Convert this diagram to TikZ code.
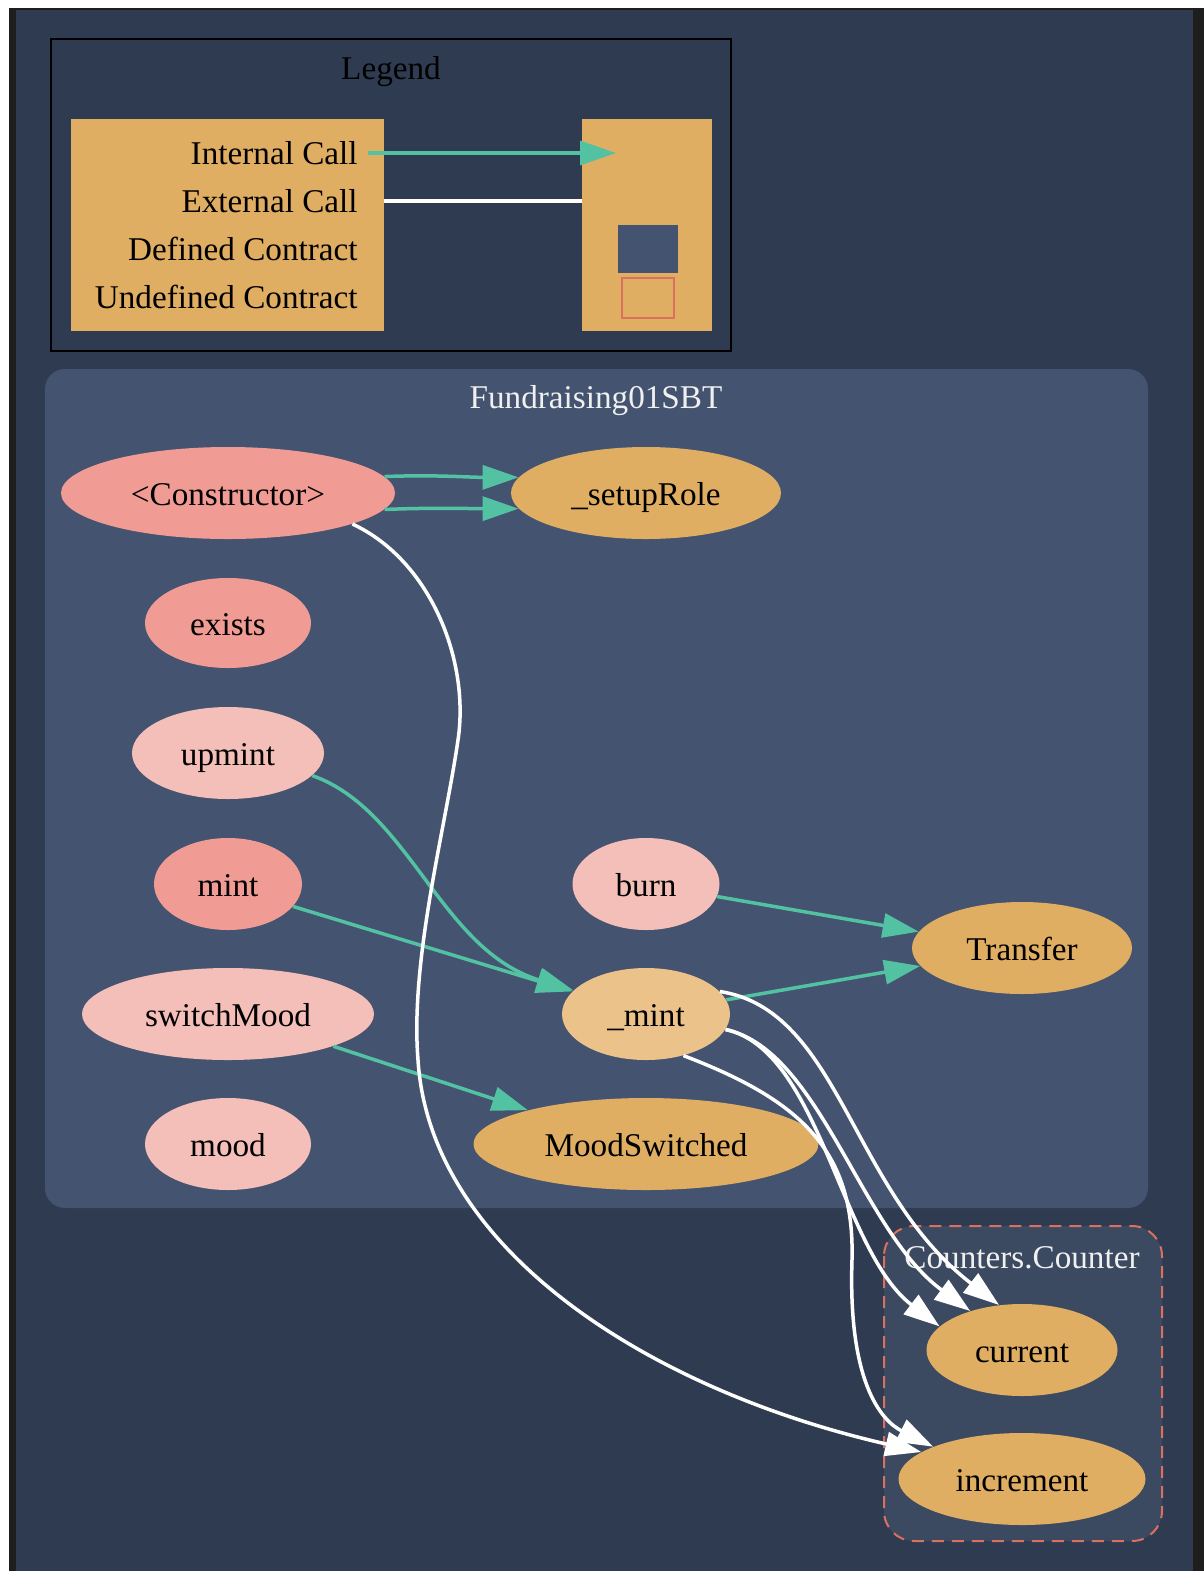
\documentclass[tikz,border=0pt]{standalone}
\usepackage{fontspec}
\setmainfont{Liberation Serif}
\usetikzlibrary{arrows.meta,shapes.geometric}

\definecolor{pagenavy}{HTML}{2E3B51}
\definecolor{framegray}{HTML}{1E1E1E}
\definecolor{clusterblue}{HTML}{445470}
\definecolor{counterblue}{HTML}{3C4A61}
\definecolor{gold}{HTML}{E0AE62}
\definecolor{sand}{HTML}{EBC28A}
\definecolor{salmon}{HTML}{F09C95}
\definecolor{blush}{HTML}{F4BFB8}
\definecolor{callteal}{HTML}{52C2A3}
\definecolor{undefred}{HTML}{D9715F}
\definecolor{titlewhite}{HTML}{F0F0F0}

\tikzset{
    fn/.style={ellipse, inner sep=0pt, minimum height=46pt, text=black,
        text height=14pt, text depth=1.5pt,
        font=\fontsize{16.6}{20}\selectfont},
    pubfn/.style={fn, fill=salmon},
    privfn/.style={fn, fill=blush},
    evfn/.style={fn, fill=gold},
    mintfn/.style={fn, fill=sand},
    lbl/.style={inner sep=0pt, text height=14pt, text depth=1.5pt,
        font=\fontsize{16.6}{20}\selectfont},
    intcall/.style={draw=callteal, line width=1.75pt,
        -{Triangle[length=18pt,width=12pt]}},
    extcall/.style={draw=white, line width=1.75pt,
        -{Triangle[length=18pt,width=12pt]}},
}

\begin{document}
\begin{tikzpicture}[x=0.5pt, y=-0.5pt]
    \useasboundingbox (0,0) rectangle (1204,1571);
    \fill[white] (0,0) rectangle (1204,1571);
    \fill[framegray] (9,8) rectangle (1204,1571);
    \fill[pagenavy] (16,10) rectangle (1193,1571);

    % legend
    \draw[black, line width=1pt] (51,39) rectangle (731,351);
    \node[lbl] (legendTitle) at (391,67) {Legend};
    \fill[gold] (71,119) rectangle (384,331);
    \fill[gold] (582,119) rectangle (712,331);
    \fill[clusterblue] (618,225) rectangle (678,273);
    \draw[undefred, line width=1pt] (622,278) rectangle (674,318);
    \node[lbl, anchor=east] (lgInt) at (358,151.5) {Internal Call};
    \node[lbl, anchor=east] (lgExt) at (358,199.5) {External Call};
    \node[lbl, anchor=east] (lgDef) at (358,248) {Defined Contract};
    \node[lbl, anchor=east] (lgUndef) at (358,296) {Undefined Contract};
    \coordinate (lgIntStart) at (368,153);
    \coordinate (lgIntEnd) at (616,153);
    \coordinate (lgExtStart) at (384,201);
    \coordinate (lgExtEnd) at (582,201);
    \draw[intcall] (lgIntStart) -- (lgIntEnd);
    \draw[draw=white, line width=1.75pt] (lgExtStart) -- (lgExtEnd);

    % clusters
    \fill[clusterblue, rounded corners=10pt] (45,369) rectangle (1148,1208);
    \node[lbl, text=titlewhite] (sbtTitle) at (596,395.5) {Fundraising01SBT};
    \filldraw[fill=counterblue, draw=undefred, line width=1pt,
        dash pattern=on 6pt off 4pt, rounded corners=15pt]
        (884,1226) rectangle (1162,1541);
    \node[lbl, text=titlewhite] (counterTitle) at (1022,1255.5) {Counters.Counter};

    % functions
    \node[pubfn, minimum width=167pt] (ctor) at (228,493) {<Constructor>};
    \node[evfn, minimum width=135pt] (setupRole) at (646,493) {\_setupRole};
    \node[pubfn, minimum width=83pt, minimum height=45pt] (exists) at (228,623) {exists};
    \node[privfn, minimum width=96pt] (upmint) at (228,753) {upmint};
    \node[pubfn, minimum width=74pt] (mint) at (228,884) {mint};
    \node[privfn, minimum width=146pt] (switchMood) at (228,1014) {switchMood};
    \node[privfn, minimum width=83pt] (mood) at (228,1144) {mood};
    \node[privfn, minimum width=73.5pt] (burn) at (646,884) {burn};
    \node[evfn, minimum width=110pt] (transfer) at (1022,948) {Transfer};
    \node[mintfn, minimum width=84pt] (mintInt) at (646,1014) {\_mint};
    \node[evfn, minimum width=172.5pt] (moodSwitched) at (646,1144) {MoodSwitched};
    \node[evfn, minimum width=95.5pt] (current) at (1022,1350) {current};
    \node[evfn, minimum width=123.5pt] (increment) at (1022,1479) {increment};

    % calls
    \draw[intcall] (ctor.6) .. controls +(50,-2) and +(-50,0) .. (setupRole.173);
    \draw[intcall] (ctor.-6) .. controls +(50,-2) and +(-50,0) .. (setupRole.187);
    \draw[intcall] (upmint.-15) .. controls (410,810) and (440,950) .. (mintInt.162);
    \draw[intcall] (mint.-19) -- (mintInt.163);
    \draw[intcall] (switchMood.-17) -- (moodSwitched.164);
    \draw[intcall] (burn.-10) -- (transfer.171);
    \draw[intcall] (mintInt.10) -- (transfer.190);
    \draw[extcall] (ctor.-14) .. controls (430,560) and (470,660) .. (458,740)
        .. controls (445,830) and (410,960) .. (418,1060)
        .. controls (430,1250) and (650,1390) .. (increment.165);
    \draw[extcall] (mintInt.17) .. controls (840,1010) and (850,1190) .. (current.117);
    \draw[extcall] (mintInt.-11) .. controls (820,1050) and (860,1230) .. (current.143);
    \draw[extcall] (mintInt.-11) .. controls (820,1050) and (840,1250) .. (current.164);
    \draw[extcall] (mintInt.-48) .. controls (800,1100) and (855,1150) .. (852,1260)
        .. controls (848,1380) and (880,1420) .. (increment.160);
\end{tikzpicture}
\end{document}
